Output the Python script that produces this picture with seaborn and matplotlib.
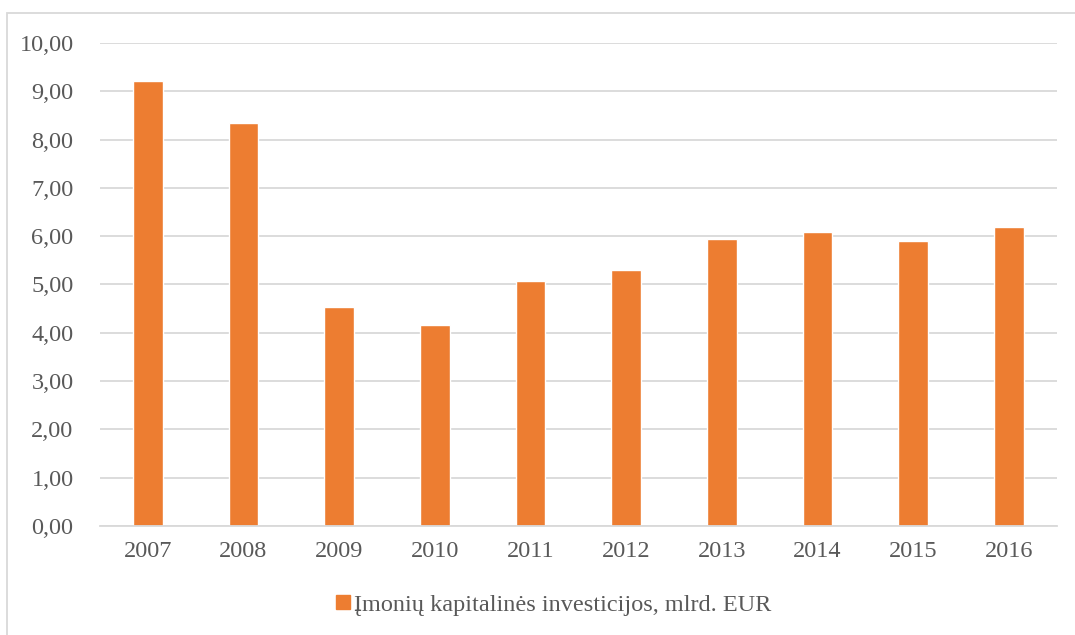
import pandas as pd
import matplotlib.pyplot as plt
import matplotlib.patches as mpatches
import seaborn as sns

# data
years = ['2007', '2008', '2009', '2010', '2011', '2012', '2013', '2014', '2015', '2016']
investicijos = [9.21, 8.34, 4.53, 4.16, 5.08, 5.31, 5.94, 6.09, 5.90, 6.19]
label = 'Įmonių kapitalinės investicijos, mlrd. EUR'

df = pd.DataFrame({'metai': years, 'reiksme': investicijos})

sns.set_style('white')
plt.rcParams['font.family'] = ['Liberation Serif', 'DejaVu Serif']

fig = plt.figure(figsize=(10.75, 6.35), dpi=100)
ax = fig.add_axes([0.093, 0.1717, 0.89, 0.7606])

orange = '#ED7D31'
sns.barplot(data=df, x='metai', y='reiksme', color=orange, width=0.31,
            saturation=1, ax=ax)

ax.set_ylim(0, 10)
ax.set_yticks(range(0, 11))
ax.set_yticklabels([f'{v:.2f}'.replace('.', ',') for v in range(0, 11)])
ax.yaxis.grid(True, color='#D9D9D9', linewidth=1.3)
ax.set_axisbelow(True)
ax.set_xlabel('')
ax.set_ylabel('')
for s in ['top', 'right', 'left']:
    ax.spines[s].set_visible(False)
ax.spines['bottom'].set_color('#D9D9D9')
ax.spines['bottom'].set_linewidth(1.3)
ax.tick_params(axis='both', length=0, labelsize=17.5, colors='#595959')
ax.tick_params(axis='y', pad=19)
ax.tick_params(axis='x', pad=11)

# legend at the bottom
handle = mpatches.Patch(color=orange, label=label)
fig.legend(handles=[handle], loc='center', bbox_to_anchor=(0.515, 0.047),
           frameon=False, fontsize=17.5, labelcolor='#595959',
           handlelength=0.55, handleheight=0.55, handletextpad=0.15)

# chart border
fig.patches.append(mpatches.Rectangle((7 / 1075, -0.01), 1.1, (635 - 13) / 635 + 0.01,
                                      transform=fig.transFigure, fill=False,
                                      edgecolor='#D9D9D9', linewidth=1.3))

fig.savefig('out.png', dpi=100)
